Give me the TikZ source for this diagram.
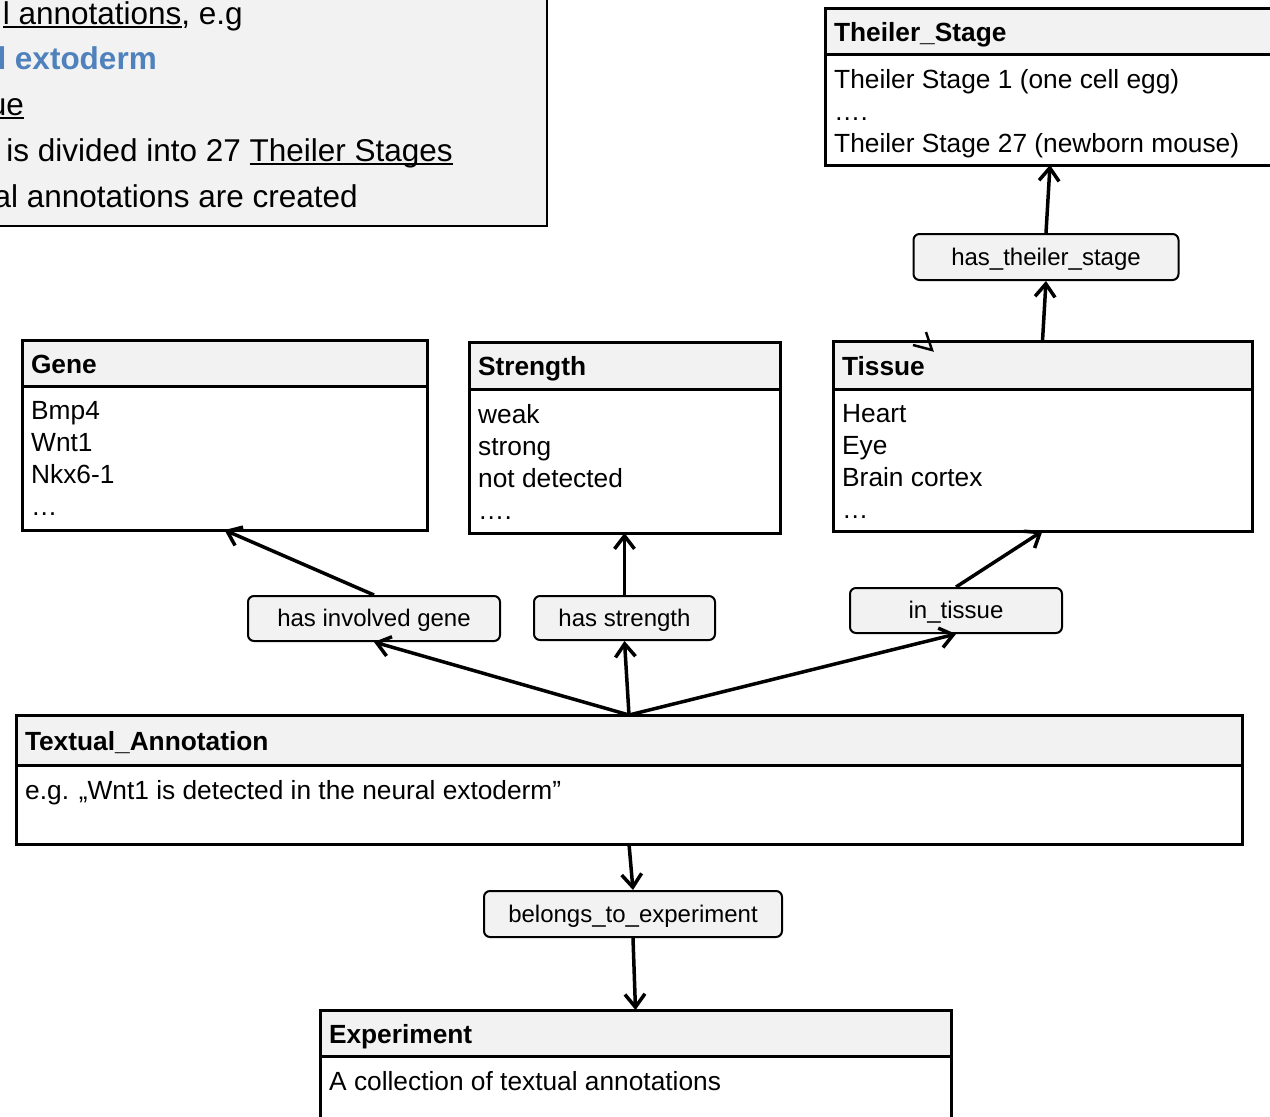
\documentclass[tikz,border=0pt]{standalone}
\usepackage{fontspec}
\setmainfont{Liberation Sans}
\usetikzlibrary{arrows.meta}
\definecolor{boxgray}{HTML}{F2F2F2}
\definecolor{noteblue}{HTML}{4F81BD}
\newcommand{\bodyfont}{\fontsize{26.3}{32}\selectfont}
\newcommand{\relfont}{\fontsize{24}{28}\selectfont}
\newcommand{\notefont}{\fontsize{31.5}{46}\selectfont}
\newcommand{\noteul}[1]{\setbox0\hbox{#1}\rlap{\raisebox{-4pt}{\rule{\wd0}{2pt}}}\box0}

\begin{document}
\begin{tikzpicture}[x=1pt,y=-1pt,
  classhead/.style={draw, line width=3pt, fill=boxgray, anchor=north west, outer sep=0pt,
    align=left, inner xsep=9pt, inner ysep=0pt, font=\bodyfont\bfseries,
    text height=22pt, text depth=2pt},
  classbody/.style={draw, line width=3pt, fill=white, anchor=north west, outer sep=0pt, inner sep=0pt},
  classtext/.style={anchor=north west, align=left, inner sep=0pt, font=\bodyfont},
  relation/.style={draw, line width=2pt, fill=boxgray, rounded corners=6pt, font=\relfont,
    text height=17.5pt, text depth=1pt, inner sep=0pt},
  notetext/.style={anchor=base east, inner sep=0pt, font=\notefont},
  link/.style={line width=3.5pt, -{Straight Barb[length=13pt,width=20pt]}}]
       \useasboundingbox (0,0) rectangle (1270,1117);
       \clip (0,0) rectangle (1270,1117);
       % note box, cut off at the top left
       \draw[line width=2pt, fill=boxgray] (-20,-20) rectangle (547,226);
       \node[notetext] (note1) at (243,24) {\noteul{l annotations}, e.g};
       \node[notetext] (note2) at (157,69) {\bfseries\color{noteblue}l extoderm};
       \node[notetext] (note3) at (24,115) {\noteul{ue}};
       \node[notetext] (note4) at (453,161) {is divided into 27 \noteul{Theiler Stages}};
       \node[notetext] (note5) at (358,207) {al annotations are created};
       % classes
       \node[classhead, text width=432pt, minimum height=46pt] (stage-h) at (825,8) {Theiler\_Stage};
       \node[classbody, minimum width=450pt, minimum height=111pt] (stage-b) at (825,54) {};
       \node[classtext] (stage-t) at (834,69) {Theiler Stage 1 (one cell egg)\\….\\Theiler Stage 27 (newborn mouse)};
       \node[classhead, text width=387pt, minimum height=46pt] (gene-h) at (22,340) {Gene};
       \node[classbody, minimum width=405pt, minimum height=144pt] (gene-b) at (22,386) {};
       \node[classtext] (gene-t) at (31,401) {Bmp4\\Wnt1\\Nkx6-1\\…};
       \node[classhead, text width=293pt, minimum height=47pt] (strength-h) at (469,342) {Strength};
       \node[classbody, minimum width=311pt, minimum height=144pt] (strength-b) at (469,389) {};
       \node[classtext] (strength-t) at (478,404) {weak\\strong\\not detected\\….};
       \node[classhead, text width=401pt, minimum height=48pt] (tissue-h) at (833,341) {Tissue};
       \node[classbody, minimum width=419pt, minimum height=142pt] (tissue-b) at (833,389) {};
       \node[classtext] (tissue-t) at (842,404) {Heart\\Eye\\Brain cortex\\…};
       \node[classhead, text width=1208pt, minimum height=50pt] (ta-h) at (16,715) {Textual\_Annotation};
       \node[classbody, minimum width=1226pt, minimum height=79pt] (ta-b) at (16,765) {};
       \node[classtext] (ta-t) at (25,780) {e.g. „Wnt1 is detected in the neural extoderm”};
       \node[classhead, text width=613pt, minimum height=46pt] (exp-h) at (320,1010) {Experiment};
       \node[classbody, minimum width=631pt, minimum height=100pt] (exp-b) at (320,1056) {};
       \node[classtext] (exp-t) at (329,1071) {A collection of textual annotations};
       \draw[line width=2.5pt] (926,332) -- (932,350) -- (913,345);
       % relations
       \node[relation, minimum width=265pt, minimum height=46pt] (hts) at (1046,257) {has\_theiler\_stage};
       \node[relation, minimum width=252pt, minimum height=45pt] (hig) at (374,618.5) {has involved gene};
       \node[relation, minimum width=181pt, minimum height=44pt] (hs) at (624.5,618) {has strength};
       \node[relation, minimum width=212pt, minimum height=45pt] (it) at (956,610.5) {in\_tissue};
       \node[relation, minimum width=298pt, minimum height=46pt] (bte) at (633,914) {belongs\_to\_experiment};
       \draw[link] (tissue-h.north) -- (hts.south);
       \draw[link] (hts.north) -- (stage-b.south);
       \draw[link] (ta-h.north) -- (hig.south);
       \draw[link] (hig.north) -- (gene-b.south);
       \draw[link] (ta-h.north) -- (hs.south);
       \draw[link] (hs.north) -- (strength-b.south);
       \draw[link] (ta-h.north) -- (it.south);
       \draw[link] (it.north) -- (tissue-b.south);
       \draw[link] (ta-b.south) -- (bte.north);
       \draw[link] (bte.south) -- (exp-h.north);
\end{tikzpicture}
\end{document}
